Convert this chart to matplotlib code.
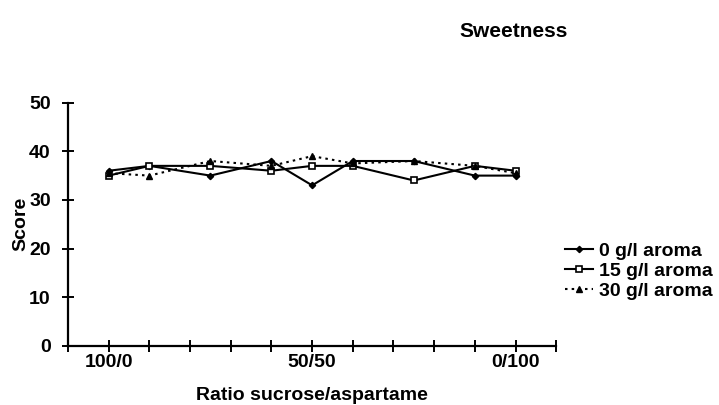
import matplotlib.pyplot as plt

plt.rcParams['font.family'] = ['Liberation Sans', 'DejaVu Sans']

# ratio positions (0 = 100/0 ... 10 = 0/100)
ratio_pos = [0, 1, 2.5, 4, 5, 6, 7.5, 9, 10]
aroma_0 = [36, 37, 35, 38, 33, 38, 38, 35, 35]
aroma_15 = [35, 37, 37, 36, 37, 37, 34, 37, 36]
aroma_30 = [35.5, 35, 38, 37, 39, 37.5, 38, 37, 35.5]

tick_pos = list(range(-1, 12))
tick_labels = {0: "100/0", 5: "50/50", 10: "0/100"}

fig = plt.figure(figsize=(7.19, 4.05), dpi=100)
ax = fig.add_axes([0.0946, 0.1457, 0.679, 0.601])

ax.plot(ratio_pos, aroma_0, color="black", lw=1.5, marker="D", ms=3.2,
        label="0 g/l aroma")
ax.plot(ratio_pos, aroma_15, color="black", lw=1.5, marker="s", ms=4.5,
        mfc="white", mew=1.2, label="15 g/l aroma")
ax.plot(ratio_pos, aroma_30, color="black", lw=1.5, ls=(0, (1.2, 2)), marker="^",
        ms=4, label="30 g/l aroma")

ax.set_xlim(-1, 11)
ax.set_ylim(0, 50)
ax.set_xticks(tick_pos)
ax.set_xticklabels([tick_labels.get(t, "") for t in tick_pos])
ax.set_yticks([0, 10, 20, 30, 40, 50])

for s in ["top", "right"]:
    ax.spines[s].set_visible(False)
for s in ["left", "bottom"]:
    ax.spines[s].set_linewidth(1.6)
ax.tick_params(direction="inout", length=9, width=1.4, labelsize=14)
ax.tick_params(axis="x", pad=1)
ax.tick_params(axis="y", pad=8)
for lab in ax.get_xticklabels() + ax.get_yticklabels():
    lab.set_fontweight("bold")

ax.set_xlabel("Ratio sucrose/aspartame", fontsize=14, fontweight="bold", labelpad=12)
ax.set_ylabel("Score", fontsize=14, fontweight="bold", labelpad=0)

fig.text(0.715, 0.923, "Sweetness", fontsize=15, fontweight="bold",
         ha="center", va="center")

ax.legend(loc="center left", bbox_to_anchor=(0.786, 0.33), bbox_transform=fig.transFigure,
          frameon=False, handlelength=1.45, handletextpad=0.3, labelspacing=0.12,
          borderaxespad=0, borderpad=0, prop={"size": 14, "weight": "bold"})

fig.savefig("out.png", dpi=100)
